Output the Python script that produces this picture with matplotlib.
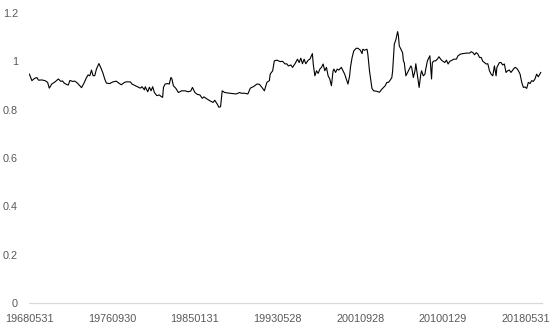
import numpy as np
import pandas as pd
import matplotlib.pyplot as plt

# ------------------ data ------------------
start_month = "1968-05"
# months elapsed since start_month for each reading
month_no = [
    0, 3, 6, 9, 11, 15, 19, 22, 24, 27, 31, 35, 38, 40, 42, 45, 47, 49, 52, 55,
    58, 61, 63, 66, 69, 71, 73, 75, 77, 79, 81, 84, 87, 89, 91, 93, 97, 101, 105, 108,
    111, 115, 117, 122, 124, 128, 131, 134, 136, 139, 140, 143, 145, 147, 149, 151, 154, 157, 159, 161,
    162, 164, 167, 169, 171, 172, 174, 177, 180, 184, 188, 192, 195, 197, 200, 203, 206, 209, 211, 213,
    218, 222, 224, 227, 229, 231, 233, 236, 242, 250, 254, 256, 260, 264, 267, 271, 275, 278, 281, 284,
    287, 290, 291, 294, 296, 299, 303, 306, 309, 311, 313, 316, 318, 321, 324, 326, 328, 330, 332, 334,
    337, 339, 342, 343, 345, 347, 349, 351, 353, 355, 357, 359, 361, 363, 365, 367, 368, 370, 372, 374,
    377, 379, 381, 383, 385, 387, 388, 390, 392, 395, 397, 400, 402, 403, 405, 408, 409, 411, 414, 416,
    420, 423, 426, 428, 430, 432, 434, 436, 438, 439, 441, 443, 445, 446, 447, 449, 451, 452, 453, 455,
    457, 459, 461, 462, 464, 466, 467, 469, 471, 473, 474, 476, 478, 479, 481, 483, 484, 486, 487, 489,
    491, 493, 495, 497, 499, 502, 504, 506, 508, 511, 513, 516, 518, 521, 524, 528, 532, 534, 536, 538,
    540, 542, 544, 546, 548, 550, 552, 554, 556, 558, 560, 562, 564, 565, 568, 570, 572, 574, 576, 578,
    580, 582, 585, 587, 589, 591, 593, 595, 597, 599, 601, 603, 605, 607, 609, 611, 613, 615, 618,
]
ratio = [
    0.947, 0.920, 0.929, 0.933, 0.922, 0.923, 0.920, 0.913, 0.889, 0.906, 0.915, 0.927, 0.917, 0.919, 0.910, 0.904, 0.902, 0.921, 0.917, 0.918,
    0.910, 0.899, 0.891, 0.910, 0.933, 0.944, 0.940, 0.964, 0.940, 0.941, 0.968, 0.991, 0.968, 0.950, 0.927, 0.910, 0.908, 0.915, 0.918, 0.910,
    0.903, 0.913, 0.915, 0.915, 0.906, 0.899, 0.894, 0.889, 0.895, 0.882, 0.895, 0.874, 0.893, 0.878, 0.895, 0.871, 0.858, 0.861, 0.855, 0.851,
    0.892, 0.906, 0.908, 0.906, 0.933, 0.930, 0.899, 0.888, 0.871, 0.878, 0.878, 0.874, 0.877, 0.892, 0.871, 0.863, 0.861, 0.847, 0.853, 0.848,
    0.837, 0.830, 0.839, 0.823, 0.810, 0.812, 0.878, 0.871, 0.868, 0.865, 0.871, 0.868, 0.868, 0.865, 0.889, 0.896, 0.906, 0.905, 0.892, 0.878,
    0.913, 0.920, 0.947, 0.961, 1.002, 1.005, 0.999, 1.000, 0.989, 0.990, 0.981, 0.985, 0.975, 0.990, 1.009, 0.995, 1.013, 0.990, 1.009, 0.990,
    1.005, 1.009, 1.032, 0.989, 0.940, 0.961, 0.950, 0.968, 0.975, 0.989, 0.961, 0.975, 0.940, 0.927, 0.899, 0.961, 0.968, 0.954, 0.968, 0.964,
    0.975, 0.961, 0.947, 0.927, 0.906, 0.940, 0.975, 1.016, 1.043, 1.054, 1.054, 1.046, 1.032, 1.050, 1.046, 1.050, 1.030, 0.961, 0.888, 0.878,
    0.876, 0.872, 0.885, 0.892, 0.899, 0.913, 0.913, 0.922, 0.933, 0.961, 1.071, 1.091, 1.123, 1.105, 1.064, 1.050, 1.036, 1.002, 0.995, 0.940,
    0.954, 0.968, 0.981, 0.975, 0.933, 0.961, 0.990, 0.940, 0.892, 0.947, 0.961, 0.940, 0.947, 0.968, 1.002, 1.016, 1.023, 0.927, 0.995, 1.002,
    1.002, 1.009, 1.019, 1.009, 1.002, 0.995, 1.005, 0.989, 1.000, 1.005, 1.009, 1.009, 1.023, 1.030, 1.032, 1.034, 1.034, 1.040, 1.036, 1.027,
    1.036, 1.030, 1.016, 1.016, 1.000, 0.995, 0.989, 0.990, 0.961, 0.947, 0.940, 0.981, 0.940, 0.975, 0.995, 0.995, 0.985, 0.989, 0.954, 0.961,
    0.964, 0.954, 0.968, 0.975, 0.971, 0.961, 0.947, 0.913, 0.892, 0.894, 0.888, 0.913, 0.908, 0.920, 0.917, 0.927, 0.947, 0.936, 0.954,
]
n_months = 620  # monthly categories on the axis, 1968-05 .. 2019-12
tick_labels = ["19680531", "19760930", "19850131", "19930528",
               "20010928", "20100129", "20180531"]

# ------------------ plot ------------------
periods = pd.Period(start_month, freq="M") + np.array(month_no)
x = np.array([(p - pd.Period(start_month, freq="M")).n for p in periods])
tick_pos = np.arange(0, n_months, 100)

fig = plt.figure(figsize=(5.5, 3.28), dpi=100)
ax = fig.add_axes([29 / 550, 25 / 328, 513 / 550, 290 / 328])
ax.plot(x, ratio, color="black", lw=0.8)

ax.set_xlim(-0.5, n_months - 0.5)
ax.set_ylim(0, 1.2)
ax.set_xticks(tick_pos)
ax.set_xticklabels(tick_labels)
ax.set_yticks(np.arange(0, 1.21, 0.2))
ax.set_yticklabels([f"{v:g}" for v in np.round(np.arange(0, 1.21, 0.2), 1)])

for s in ["top", "right", "left"]:
    ax.spines[s].set_visible(False)
ax.spines["bottom"].set_color("#d9d9d9")
ax.spines["bottom"].set_linewidth(0.9)
ax.tick_params(axis="both", length=0, colors="#595959", labelsize=7.8)
ax.tick_params(axis="x", pad=8)
ax.tick_params(axis="y", pad=8)
for lab in ax.get_xticklabels() + ax.get_yticklabels():
    lab.set_fontfamily("Liberation Sans")

fig.savefig("out.png", dpi=100)
